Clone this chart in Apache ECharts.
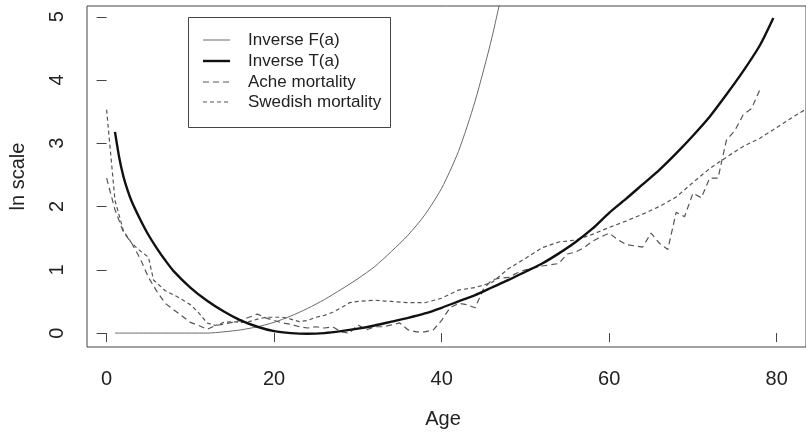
<!DOCTYPE html>
<html>
<head>
<meta charset="utf-8">
<script src="https://cdn.jsdelivr.net/npm/echarts@6/dist/echarts.min.js"></script>
<style>html,body{margin:0;padding:0;background:#fff}#c{width:806px;height:434px}</style>
</head>
<body>
<div id="c"></div>
<script>
// ---- data ----
const xTicks = [0, 20, 40, 60, 80];
const yTicks = [0, 1, 2, 3, 4, 5];
const seriesNames = ['Inverse F(a)', 'Inverse T(a)', 'Ache mortality', 'Swedish mortality'];

const fAges = [1, 4, 8, 12, 14, 16, 18, 20, 22, 24, 26, 28, 30, 32, 34, 36, 38, 40, 42, 44, 46, 48];
const fVals = [0, 0, 0, 0, 0.02, 0.05, 0.1, 0.17, 0.27, 0.39, 0.53, 0.69, 0.86, 1.05, 1.29, 1.55, 1.87, 2.29, 2.87, 3.67, 4.67, 5.87];

const tAges = [1, 1.5, 2, 2.5, 3, 4, 5, 6, 7, 8, 10, 12, 14, 16, 18, 20, 22, 24, 26, 28, 30, 32, 34, 36, 38, 40, 42, 44, 46, 48, 50, 52, 54, 56, 58, 60, 62, 64, 66, 68, 70, 72, 74, 76, 78, 79.6];
const tVals = [3.18, 2.78, 2.48, 2.26, 2.08, 1.8, 1.55, 1.34, 1.15, 0.98, 0.72, 0.51, 0.34, 0.2, 0.1, 0.03, 0, -0.01, 0, 0.03, 0.07, 0.12, 0.18, 0.24, 0.31, 0.4, 0.5, 0.6, 0.72, 0.84, 0.97, 1.1, 1.26, 1.44, 1.65, 1.9, 2.12, 2.35, 2.58, 2.84, 3.12, 3.42, 3.77, 4.14, 4.55, 4.98];

const acheAges = [0, 1, 2, 3, 4, 5, 6, 7, 8, 9, 10, 11, 12, 13, 14, 15, 16, 17, 18, 19, 20, 21, 22, 23, 24, 25, 26, 27, 28, 29, 30, 31, 32, 33, 34, 35, 36, 37, 38, 39, 40, 41, 42, 43, 44, 45, 46, 47, 48, 49, 50, 51, 52, 53, 54, 55, 56, 57, 58, 59, 60, 61, 62, 63, 64, 65, 66, 67, 68, 69, 70, 71, 72, 73, 74, 75, 76, 77, 78];
const acheVals = [2.45, 1.95, 1.6, 1.42, 1.18, 0.88, 0.66, 0.47, 0.37, 0.27, 0.17, 0.12, 0.06, 0.12, 0.14, 0.17, 0.2, 0.25, 0.3, 0.24, 0.2, 0.16, 0.14, 0.1, 0.08, 0.1, 0.08, 0.1, 0.02, 0.0, 0.13, 0.05, 0.1, 0.1, 0.13, 0.16, 0.05, 0.02, 0.02, 0.05, 0.2, 0.4, 0.47, 0.45, 0.4, 0.7, 0.84, 0.87, 0.88, 0.95, 1.0, 1.03, 1.06, 1.08, 1.1, 1.25, 1.28, 1.35, 1.45, 1.52, 1.58, 1.48, 1.4, 1.38, 1.36, 1.58, 1.42, 1.32, 1.91, 1.84, 2.21, 2.14, 2.45, 2.45, 3.05, 3.2, 3.45, 3.55, 3.85];

const sweAges = [0, 1, 2, 3, 4, 5, 5.6, 7, 8.5, 10, 11, 12, 13, 14, 15, 16, 17, 18, 19, 20, 21, 22, 23, 24, 25, 26, 27, 28, 29, 30, 32, 34, 36, 38, 40, 42, 44, 46, 48, 50, 52, 54, 56, 58, 60, 62, 64, 66, 68, 70, 72, 74, 76, 78, 80, 82, 84];
const sweVals = [3.53, 2.1, 1.62, 1.42, 1.3, 1.2, 0.84, 0.67, 0.57, 0.45, 0.32, 0.16, 0.12, 0.17, 0.18, 0.17, 0.18, 0.22, 0.25, 0.25, 0.25, 0.22, 0.18, 0.2, 0.25, 0.28, 0.33, 0.4, 0.48, 0.5, 0.52, 0.5, 0.48, 0.48, 0.55, 0.68, 0.72, 0.8, 1.02, 1.18, 1.35, 1.44, 1.47, 1.56, 1.67, 1.77, 1.88, 2.0, 2.15, 2.38, 2.6, 2.78, 2.95, 3.08, 3.25, 3.42, 3.58];

const pair = (xs, ys) => xs.map((x, i) => [x, ys[i]]);

const FONT = "'Liberation Sans', Arial, sans-serif";
const TXT = '#222';
const AX = '#444';

const styles = [
  { color: '#6a6a6a', width: 1, type: 'solid', smooth: 0.25 },
  { color: '#111', width: 2.4, type: 'solid', smooth: 0.25 },
  { color: '#555', width: 1.2, type: [6, 4], smooth: false },
  { color: '#555', width: 1.2, type: [4, 3], smooth: false }
];
const dataSets = [pair(fAges, fVals), pair(tAges, tVals), pair(acheAges, acheVals), pair(sweAges, sweVals)];

const chart = echarts.init(document.getElementById('c'), null, { renderer: 'canvas' });

const legendLeft = 188, legendTop = 17, legendW = 202, legendH = 110;
const rowY = [40, 61, 82, 102];
const legendGraphics = [{
  type: 'rect', shape: { x: legendLeft + 0.5, y: legendTop + 0.5, width: legendW, height: legendH },
  style: { fill: '#fff', stroke: AX, lineWidth: 1 }, z: 100
}];
seriesNames.forEach((n, i) => {
  legendGraphics.push({
    type: 'line', shape: { x1: 203, y1: rowY[i], x2: 230, y2: rowY[i] },
    style: { stroke: styles[i].color, lineWidth: styles[i].width, lineDash: Array.isArray(styles[i].type) ? styles[i].type : null }, z: 101
  });
  legendGraphics.push({
    type: 'text', x: 248, y: rowY[i],
    style: { text: n, font: "17px " + FONT, fill: TXT, verticalAlign: 'middle', align: 'left' }, z: 101
  });
});

chart.setOption({
  animation: false,
  backgroundColor: '#fff',
  grid: { left: 83, top: 6, right: -10, bottom: 87, show: true, borderColor: AX, borderWidth: 1, backgroundColor: 'transparent' },
  xAxis: {
    type: 'value', min: -2.34, max: 83.5,
    name: 'Age', nameLocation: 'middle', nameGap: 62,
    nameTextStyle: { fontFamily: FONT, fontSize: 20, color: TXT, padding: [0, 7, 0, 0] },
    axisLine: { show: false },
    axisTick: { show: true, inside: false, length: 9, customValues: xTicks, lineStyle: { color: AX } },
    axisLabel: { customValues: xTicks, margin: 22, fontFamily: FONT, fontSize: 20, color: TXT },
    splitLine: { show: false }
  },
  yAxis: {
    type: 'value', min: -0.22, max: 5.17,
    name: 'ln scale', nameLocation: 'middle', nameGap: 59,
    nameTextStyle: { fontFamily: FONT, fontSize: 20, color: TXT },
    axisLine: { show: false },
    axisTick: { show: true, inside: false, length: 10, customValues: yTicks, lineStyle: { color: AX } },
    axisLabel: { customValues: yTicks, rotate: 90, margin: 20, fontFamily: FONT, fontSize: 20, color: TXT },
    splitLine: { show: false }
  },
  series: seriesNames.map((n, i) => ({
    name: n, type: 'line', data: dataSets[i], symbol: 'none', showSymbol: false, clip: true,
    smooth: styles[i].smooth,
    lineStyle: { color: styles[i].color, width: styles[i].width, type: styles[i].type },
    z: i === 1 ? 5 : 3
  })),
  graphic: legendGraphics
});
</script>
</body>
</html>
